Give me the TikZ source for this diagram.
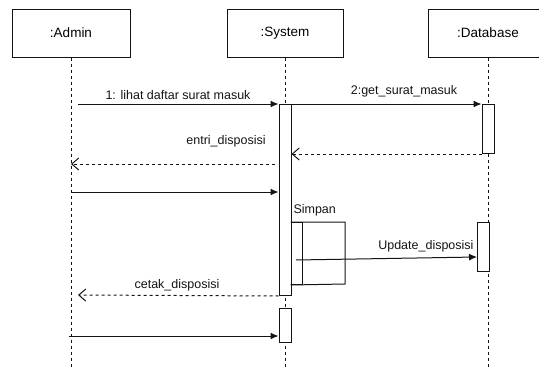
\documentclass[tikz,border=0pt]{standalone}
\usepackage{fontspec}
\setmainfont{Liberation Sans}
\usetikzlibrary{arrows.meta,positioning}
\usepackage{xcolor}
\definecolor{lineblack}{RGB}{20,20,20}

\begin{document}
\begin{tikzpicture}[x=1pt, y=-1pt, line width=1pt, draw=lineblack,
  objbox/.style={rectangle, draw=lineblack, fill=white, minimum height=48pt, inner sep=0pt, font=\fontsize{13.5}{16}\selectfont},
  actbox/.style={rectangle, draw=lineblack, fill=white, minimum width=12pt, inner sep=0pt, anchor=north},
  lifeline/.style={draw=lineblack, dash pattern=on 3pt off 3pt},
  msg/.style={draw=lineblack, -{Latex[length=8pt,width=7pt]}},
  ret/.style={draw=lineblack, dash pattern=on 3pt off 3pt, -{Straight Barb[length=7pt,width=12pt]}},
  lbl/.style={inner sep=0pt, font=\fontsize{12.5}{15}\selectfont, text=lineblack}]
\useasboundingbox (0,0) rectangle (539,367);

% objects
\node[objbox, minimum width=118pt] (admin) at (71,33) {:Admin};
\node[objbox, minimum width=116pt] (system) at (285,33) {:System};
\node[objbox, minimum width=120pt] (database) at (488,33) {:Database};

% lifelines
\coordinate (adminEnd) at (71,367);
\coordinate (systemEnd) at (285,367);
\coordinate (databaseEnd) at (488,367);
\draw[lifeline] (admin) -- (adminEnd);
\draw[lifeline] (system) -- (systemEnd);
\draw[lifeline] (database) -- (databaseEnd);

% activations
\node[actbox, minimum height=191pt] (sysAct) at (285,104) {};
\node[actbox, minimum height=34pt] (sysAct2) at (285,308) {};
\node[actbox, minimum height=49pt] (dbAct) at (488,104) {};
\node[actbox, minimum height=49pt] (dbAct2) at (483,222) {};
\node[actbox, minimum width=11pt, minimum height=62pt] (simpanAct) at (296.5,222) {};

% self call
\coordinate (loopTop) at (345,222);
\coordinate (loopBot) at (345,284);
\draw (simpanAct.north west) -- (loopTop) -- (loopBot) -- (simpanAct.south west);
\node[lbl, anchor=west] (simpan) at (293,210) {Simpan};

% messages
\coordinate (m1) at (78,104);
\draw[msg] (m1) -- (sysAct.north west);
\node[lbl] (lihat) at (178,95) {1: lihat daftar surat masuk};

\draw[msg] (sysAct.north east) -- (dbAct.north west);
\node[lbl] (getSurat) at (404,91) {2:get\_surat\_masuk};

\draw[ret] (dbAct.south west) -- (sysAct.east |- dbAct.south west);

\coordinate (r4a) at (275,164);
\coordinate (r4b) at (71,164);
\draw[ret] (r4a) -- (r4b);
\node[lbl] (entri) at (226,141) {entri\_disposisi};

\coordinate (m5) at (71,192);
\draw[msg] (m5) -- (sysAct.west |- m5);

\coordinate (u0) at (296,260);
\coordinate (u1) at (477,257);
\draw[msg] (u0) -- (u1);
\node[lbl, anchor=east] (update) at (474,246) {Update\_disposisi};

\coordinate (c8) at (78,295);
\draw[ret] (sysAct.south west) -- (c8);
\node[lbl] (cetak) at (177,285) {cetak\_disposisi};

\coordinate (m9) at (69,336);
\draw[msg] (m9) -- (sysAct2.west |- m9);
\end{tikzpicture}
\end{document}
